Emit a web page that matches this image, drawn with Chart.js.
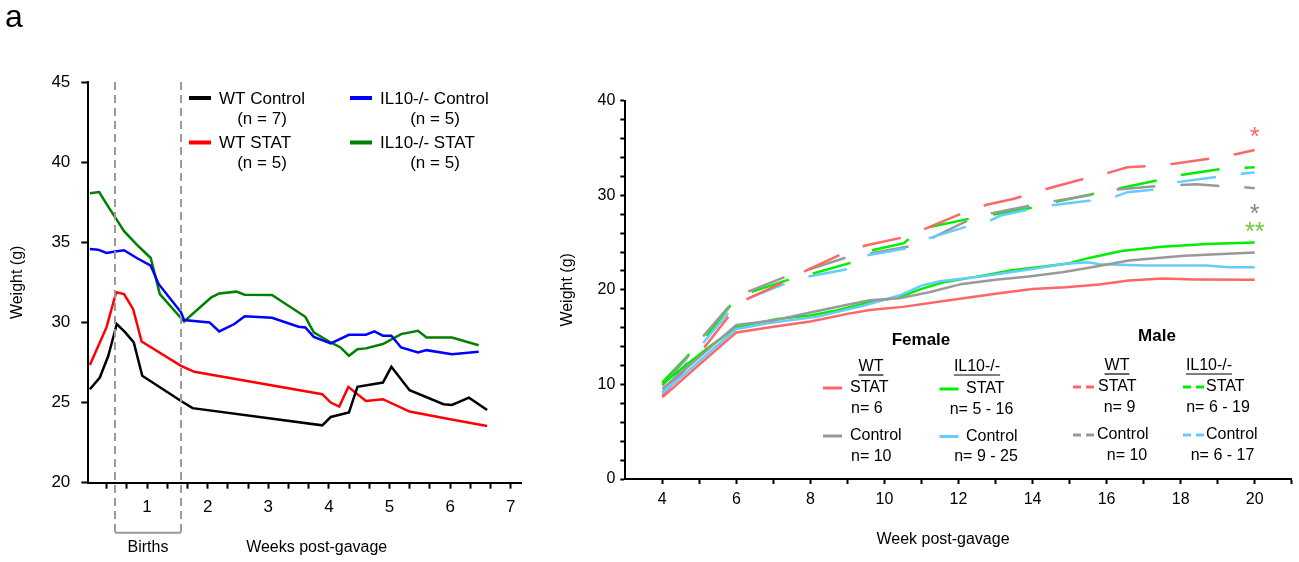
<!DOCTYPE html>
<html>
<head>
<meta charset="utf-8">
<script src="https://cdn.jsdelivr.net/npm/chart.js@4.4.1/dist/chart.umd.min.js"></script>
<style>
html, body { margin: 0; padding: 0; background: #fff; overflow: hidden; }
#wrap { position: relative; width: 1299px; height: 562px; }
.box { position: absolute; top: 0; height: 562px; }
#left { left: 0; width: 540px; }
#right { left: 540px; width: 759px; }
</style>
</head>
<body>
<div id="wrap">
  <div class="box" id="left"><canvas id="c1"></canvas></div>
  <div class="box" id="right"><canvas id="c2"></canvas></div>
</div>
<script>
// ---- left panel: weeks post-gavage vs weight (g) ----
const wtControlWeeks = [0.056, 0.22, 0.36, 0.5, 0.64, 0.78, 0.92, 1.56, 1.75, 3.89, 4.03, 4.33, 4.47, 4.89, 5.03, 5.33, 5.89, 6.03, 6.31, 6.61];
const wtControlWeight = [25.83, 26.56, 27.92, 29.9, 29.38, 28.75, 26.67, 25.1, 24.65, 23.58, 24.1, 24.38, 25.98, 26.25, 27.23, 25.77, 24.9, 24.85, 25.31, 24.54];

const wtStatWeeks = [0.056, 0.33, 0.49, 0.62, 0.77, 0.91, 1.56, 1.78, 3.89, 4.03, 4.17, 4.32, 4.61, 4.89, 5.33, 6.0, 6.61];
const wtStatWeight = [27.35, 29.69, 31.88, 31.77, 30.83, 28.81, 27.29, 26.92, 25.52, 25.0, 24.75, 25.98, 25.1, 25.21, 24.44, 23.96, 23.54];

const il10ControlWeeks = [0.056, 0.19, 0.33, 0.5, 0.62, 0.83, 1.06, 1.19, 1.56, 1.61, 2.03, 2.19, 2.44, 2.61, 3.06, 3.5, 3.61, 3.75, 4.03, 4.33, 4.61, 4.75, 4.89, 5.03, 5.19, 5.47, 5.61, 6.03, 6.47];
const il10ControlWeight = [34.58, 34.54, 34.33, 34.44, 34.5, 34.02, 33.54, 32.4, 30.63, 30.15, 30.0, 29.44, 29.9, 30.38, 30.29, 29.73, 29.69, 29.1, 28.69, 29.23, 29.23, 29.44, 29.17, 29.17, 28.44, 28.13, 28.27, 28.02, 28.17];

const il10StatWeeks = [0.056, 0.21, 0.33, 0.5, 0.62, 0.83, 1.06, 1.21, 1.61, 2.06, 2.19, 2.47, 2.61, 3.06, 3.61, 3.75, 4.03, 4.19, 4.33, 4.47, 4.61, 4.89, 5.19, 5.47, 5.61, 6.03, 6.47];
const il10StatWeight = [38.06, 38.13, 37.4, 36.4, 35.69, 34.85, 34.02, 31.77, 30.06, 31.56, 31.81, 31.92, 31.73, 31.71, 30.35, 29.38, 28.75, 28.44, 27.92, 28.33, 28.38, 28.65, 29.27, 29.48, 29.06, 29.06, 28.58];

const leftWeekLabels = [1, 2, 3, 4, 5, 6, 7];
const birthWindow = [0.47, 1.56];

// ---- right panel: week post-gavage vs weight (g) ----
// female (solid)
const fWtStatWeeks = [4, 5, 6, 7, 8, 9, 9.6, 10.5, 11.7, 13.1, 14, 14.9, 15.8, 16.6, 17.5, 18.4, 20];
const fWtStatWeight = [8.64, 12.1, 15.5, 16.1, 16.65, 17.46, 17.88, 18.2, 18.87, 19.64, 20.1, 20.28, 20.56, 21.0, 21.2, 21.1, 21.06];
const fWtControlWeeks = [4, 6, 7, 8, 8.9, 9.6, 10.4, 11.2, 12.1, 13, 13.9, 14.8, 15.6, 16.6, 18.1, 20];
const fWtControlWeight = [9.52, 16.3, 16.75, 17.6, 18.34, 18.9, 19.1, 19.75, 20.63, 21.06, 21.4, 21.86, 22.39, 23.1, 23.6, 23.94];
const fIl10StatWeeks = [4, 5.2, 6, 7.1, 8, 8.7, 9.6, 10.4, 11, 11.6, 12.5, 13.4, 14.3, 15, 15.5, 16.4, 17.5, 18.7, 20];
const fIl10StatWeight = [10.05, 13.76, 16.05, 16.93, 17.28, 17.81, 18.69, 19.22, 20.1, 20.8, 21.4, 22.04, 22.47, 22.82, 23.35, 24.1, 24.55, 24.85, 25.0];
const fIl10ControlWeeks = [4, 6, 6.9, 8.2, 9.45, 10.4, 11, 11.5, 12.6, 13.9, 14.9, 15.5, 15.8, 17.1, 18.7, 19.3, 20];
const fIl10ControlWeight = [9.06, 15.86, 16.5, 17.17, 18.34, 19.4, 20.45, 20.91, 21.4, 22.15, 22.75, 22.92, 22.7, 22.57, 22.57, 22.39, 22.39];
// male (dashed)
const mWtStatWeeks = [4, 5.17, 5.83, 6.3, 7.28, 7.92, 8.86, 9.49, 10.53, 11.16, 12.13, 12.76, 13.5, 13.79, 14.44, 15.46, 16.11, 16.56, 17.14, 17.82, 18.85, 19.52, 20];
const mWtStatWeight = [8.8, 14.1, 17.39, 19.05, 20.8, 22.1, 23.8, 24.69, 25.57, 26.56, 28.15, 28.99, 29.63, 29.98, 30.75, 31.81, 32.45, 32.97, 33.08, 33.33, 33.9, 34.37, 34.79];
const mWtControlWeeks = [4, 4.72, 5.12, 5.84, 6.34, 7.33, 8, 8.95, 9.63, 10.66, 11.29, 12.28, 12.91, 13.95, 14.58, 15.66, 16.29, 17.37, 18.43, 19.04, 19.58, 20];
const mWtControlWeight = [9.87, 13.05, 15.16, 18.44, 19.85, 21.4, 22.2, 23.4, 23.87, 24.58, 25.5, 27.4, 28.11, 28.92, 29.38, 30.08, 30.6, 30.96, 31.16, 30.99, 30.9, 30.74];
const mIl10StatWeeks = [4, 4.72, 5.17, 5.84, 6.39, 7.42, 8.05, 9.09, 9.63, 10.53, 10.66, 11.29, 12.28, 12.96, 13.99, 14.58, 15.66, 16.29, 17.37, 17.71, 19.04, 19.46, 20];
const mIl10StatWeight = [10.23, 13.15, 14.98, 18.34, 19.75, 21.09, 21.7, 22.86, 24.16, 24.93, 25.4, 26.7, 27.51, 27.97, 28.68, 29.27, 30.16, 30.69, 31.57, 31.97, 32.75, 32.85, 32.96];
const mIl10ControlWeeks = [4, 5.08, 5.76, 6.3, 7.28, 7.92, 8.95, 9.49, 10.53, 11.16, 12.17, 12.82, 13.14, 13.99, 14.49, 15.57, 16.2, 16.56, 17.24, 17.91, 18.91, 19.58, 20];
const mIl10ControlWeight = [9.17, 14.28, 17.46, 19.05, 20.6, 21.4, 22.15, 23.63, 24.34, 25.4, 26.63, 27.26, 27.86, 28.57, 28.92, 29.45, 29.8, 30.33, 30.58, 31.39, 31.9, 32.25, 32.4];

const rightWeekLabels = [4, 6, 8, 10, 12, 14, 16, 18, 20];
const rightWeightLabels = [0, 10, 20, 30, 40];
const starLabels = ['*', '*', '**'];
const starLevels = [36.6, 28.4, 26.5];

const FONT = "'Liberation Sans', Arial, Helvetica, sans-serif";
Chart.defaults.font.family = FONT;
Chart.defaults.color = '#000';
Chart.defaults.animation = false;

const RED = '#ff6666', GRAY = '#999999', GREEN = '#00ee00', BLUE = '#66ccff';

function pts(xs, ys) { return xs.map((x, i) => ({ x: x, y: ys[i] })); }

function txt(ctx, s, x, y, size, align, weight) {
  ctx.font = (weight || 'normal') + ' ' + size + 'px ' + FONT;
  ctx.textAlign = align || 'left';
  ctx.textBaseline = 'middle';
  ctx.fillStyle = '#000';
  ctx.fillText(s, x, y);
}

function seg(ctx, x1, x2, y, color, w, dash) {
  ctx.save();
  ctx.strokeStyle = color;
  ctx.lineWidth = w;
  ctx.setLineDash(dash || []);
  ctx.beginPath();
  ctx.moveTo(x1, y);
  ctx.lineTo(x2, y);
  ctx.stroke();
  ctx.restore();
}

function thirds(max) {
  const out = [];
  for (let i = 1; i <= max * 3; i++) out.push(i / 3);
  return out;
}

// left panel extras: births window, labels, legend
const leftDecor = {
  id: 'leftDecor',
  afterDraw(chart) {
    const ctx = chart.ctx, xs = chart.scales.x, ys = chart.scales.y;
    const x1 = xs.getPixelForValue(birthWindow[0]);
    const x2 = xs.getPixelForValue(birthWindow[1]);
    const top = ys.getPixelForValue(45), bot = 532.7;
    ctx.save();
    ctx.strokeStyle = '#9a9a9a';
    ctx.lineWidth = 2;
    ctx.setLineDash([8, 5]);
    [x1, x2].forEach(x => { ctx.beginPath(); ctx.moveTo(x, top); ctx.lineTo(x, bot); ctx.stroke(); });
    ctx.setLineDash([]);
    ctx.beginPath(); ctx.moveTo(x1, bot); ctx.lineTo(x2, bot); ctx.stroke();
    txt(ctx, 'Births', (x1 + x2) / 2, 548, 16, 'center');
    txt(ctx, 'Weeks post-gavage', 316.7, 548, 16, 'center');
    ctx.font = '32px ' + FONT; ctx.textAlign = 'left'; ctx.textBaseline = 'alphabetic';
    ctx.fillText('a', 5, 27);

    // legend
    const items = [
      ['#000000', 'WT Control', '(n = 7)', 189, 219, 262, 98],
      ['#ff0000', 'WT STAT', '(n = 5)', 189, 219, 262, 142.5],
      ['#0000ff', 'IL10-/- Control', '(n = 5)', 350, 380, 435, 98],
      ['#008000', 'IL10-/- STAT', '(n = 5)', 350, 380, 435, 142.5]
    ];
    items.forEach(it => {
      seg(ctx, it[3], it[3] + 22, it[6], it[0], 4);
      txt(ctx, it[1], it[4], it[6] + 1, 17, 'left');
      txt(ctx, it[2], it[5], it[6] + 21, 17, 'center');
    });
    ctx.restore();
  }
};

// right panel extras: legend, axis title, stars
const rightDecor = {
  id: 'rightDecor',
  afterDraw(chart) {
    const ctx = chart.ctx, xs = chart.scales.x, ys = chart.scales.y;
    ctx.save();
    txt(ctx, 'Week post-gavage', 403, 540, 16, 'center');

    txt(ctx, 'Female', 381, 340, 17, 'center', 'bold');
    txt(ctx, 'Male', 617, 336, 17, 'center', 'bold');

    const heads = [['WT', 331, 367], ['IL10-/-', 437, 367], ['WT', 577, 366], ['IL10-/-', 669, 366]];
    heads.forEach(h => {
      txt(ctx, h[0], h[1], h[2], 16, 'center');
      const w = ctx.measureText(h[0]).width;
      seg(ctx, h[1] - w / 2, h[1] + w / 2, h[2] + 8, '#000', 1.2);
    });

    const dash = [8, 5];
    const rows = [
      // color, dashed, lineX, textX, y, name, n, nX, nAlign
      [RED, false, 283, 310, 388, 'STAT', 'n= 6', 311, 'left'],
      [GRAY, false, 283, 310, 436, 'Control', 'n= 10', 311, 'left'],
      [GREEN, false, 399.5, 426, 389, 'STAT', 'n= 5 - 16', 441.5, 'center'],
      [BLUE, false, 399.5, 426, 436.5, 'Control', 'n= 9 - 25', 446, 'center'],
      [RED, true, 533, 558, 387, 'STAT', 'n= 9', 579.5, 'center'],
      [GRAY, true, 533, 557, 435, 'Control', 'n= 10', 587, 'center'],
      [GREEN, true, 643, 666, 387, 'STAT', 'n= 6 - 19', 678, 'center'],
      [BLUE, true, 643, 666, 435, 'Control', 'n= 6 - 17', 682.5, 'center']
    ];
    rows.forEach(r => {
      seg(ctx, r[2], r[2] + (r[1] ? 22 : 19), r[4], r[0], 3, r[1] ? dash : null);
      txt(ctx, r[5], r[3], r[4], 16, 'left');
      txt(ctx, r[6], r[7], r[4] + 20.5, 16, r[8]);
    });

    const starColors = [RED, '#888888', '#66cc33'];
    starLabels.forEach((s, i) => {
      ctx.font = '25px ' + FONT;
      ctx.textAlign = 'center';
      ctx.textBaseline = 'middle';
      ctx.fillStyle = starColors[i];
      ctx.fillText(s, xs.getPixelForValue(20), ys.getPixelForValue(starLevels[i]) + 5);
    });
    ctx.restore();
  }
};

const near = (v, list) => list.some(t => Math.abs(t - v) < 1e-6);

new Chart(document.getElementById('c1'), {
  type: 'line',
  data: {
    datasets: [
      { label: 'WT Control', data: pts(wtControlWeeks, wtControlWeight), borderColor: '#000000' },
      { label: 'WT STAT', data: pts(wtStatWeeks, wtStatWeight), borderColor: '#ff0000' },
      { label: 'IL10-/- Control', data: pts(il10ControlWeeks, il10ControlWeight), borderColor: '#0000ff' },
      { label: 'IL10-/- STAT', data: pts(il10StatWeeks, il10StatWeight), borderColor: '#008000' }
    ]
  },
  options: {
    responsive: true,
    maintainAspectRatio: false,
    layout: { padding: { left: 0, top: 82, right: 18.3, bottom: 49.3 } },
    elements: { line: { borderWidth: 2.5, tension: 0 }, point: { radius: 0 } },
    plugins: { legend: { display: false }, tooltip: { enabled: false } },
    scales: {
      x: {
        type: 'linear', min: 0.03, max: 7.18,
        afterBuildTicks: s => { s.ticks = thirds(7).map(v => ({ value: v })); },
        afterFit: s => { s.height = 30; },
        ticks: {
          autoSkip: false, maxRotation: 0, padding: 8, font: { size: 17 },
          callback: v => near(v, leftWeekLabels) ? String(Math.round(v)) : ''
        },
        grid: { drawOnChartArea: false, tickLength: 6, tickWidth: 2, tickColor: '#000' },
        border: { color: '#000', width: 2 }
      },
      y: {
        min: 20, max: 45,
        afterFit: s => { s.width = 88.3; },
        ticks: { stepSize: 5, padding: 11, font: { size: 17 } },
        grid: { drawOnChartArea: false, tickLength: 7, tickWidth: 2, tickColor: '#000' },
        border: { color: '#000', width: 2 },
        title: { display: true, text: 'Weight (g)', font: { size: 16 }, padding: { top: 8, bottom: 0 } }
      }
    }
  },
  plugins: [leftDecor]
});

const dashed = [39, 25];
new Chart(document.getElementById('c2'), {
  type: 'line',
  data: {
    datasets: [
      { label: 'F WT STAT', data: pts(fWtStatWeeks, fWtStatWeight), borderColor: RED },
      { label: 'F WT Control', data: pts(fWtControlWeeks, fWtControlWeight), borderColor: GRAY },
      { label: 'F IL10-/- Control', data: pts(fIl10ControlWeeks, fIl10ControlWeight), borderColor: BLUE },
      { label: 'F IL10-/- STAT', data: pts(fIl10StatWeeks, fIl10StatWeight), borderColor: GREEN },
      { label: 'M WT STAT', data: pts(mWtStatWeeks, mWtStatWeight), borderColor: RED, borderDash: dashed },
      { label: 'M IL10-/- Control', data: pts(mIl10ControlWeeks, mIl10ControlWeight), borderColor: BLUE, borderDash: dashed },
      { label: 'M WT Control', data: pts(mWtControlWeeks, mWtControlWeight), borderColor: GRAY, borderDash: dashed },
      { label: 'M IL10-/- STAT', data: pts(mIl10StatWeeks, mIl10StatWeight), borderColor: GREEN, borderDash: dashed }
    ]
  },
  options: {
    responsive: true,
    maintainAspectRatio: false,
    layout: { padding: { left: 0, top: 100.7, right: 7.3, bottom: 53 } },
    elements: { line: { borderWidth: 2.5, tension: 0 }, point: { radius: 0 } },
    plugins: { legend: { display: false }, tooltip: { enabled: false } },
    scales: {
      x: {
        type: 'linear', min: 3, max: 21,
        afterBuildTicks: s => { const t = []; for (let w = 4; w <= 21; w++) t.push({ value: w }); s.ticks = t; },
        afterFit: s => { s.height = 30; },
        ticks: {
          autoSkip: false, maxRotation: 0, padding: 6, font: { size: 16 },
          callback: v => near(v, rightWeekLabels) ? String(v) : ''
        },
        grid: { drawOnChartArea: false, tickLength: 5, tickWidth: 2, tickColor: '#000' },
        border: { color: '#000', width: 2 }
      },
      y: {
        min: 0, max: 40,
        afterBuildTicks: s => { const t = []; for (let w = 0; w <= 40; w += 2) t.push({ value: w }); s.ticks = t; },
        afterFit: s => { s.width = 85.3; },
        ticks: {
          autoSkip: false, padding: 5, font: { size: 16 },
          callback: v => near(v, rightWeightLabels) ? String(v) : ''
        },
        grid: { drawOnChartArea: false, tickLength: 5, tickWidth: 2, tickColor: '#000' },
        border: { color: '#000', width: 2 },
        title: { display: true, text: 'Weight (g)', font: { size: 16 }, padding: { top: 18, bottom: 0 } }
      }
    }
  },
  plugins: [rightDecor]
});
</script>
</body>
</html>
